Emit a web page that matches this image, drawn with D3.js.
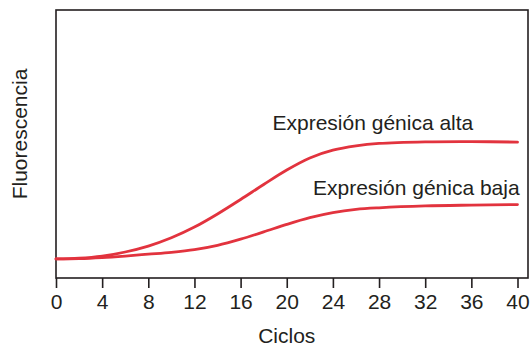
<!DOCTYPE html>
<html>
<head>
<meta charset="utf-8">
<script src="https://cdn.jsdelivr.net/npm/d3@7"></script>
<style>
  html, body { margin: 0; padding: 0; background: #fff; }
  svg { display: block; }
  text { font-family: "Liberation Sans", Arial, Helvetica, sans-serif; fill: #231f20; }
</style>
</head>
<body>
<svg id="chart" width="531" height="349"></svg>
<script>
const cycles = [0, 2, 4, 6, 8, 10, 12, 14, 16, 18, 20, 22, 24, 26, 28, 32, 36, 40];
const highExpression = [7.1, 7.4, 8.2, 9.7, 11.9, 15.0, 19.0, 23.9, 29.3, 34.9, 40.3, 44.8, 47.7, 49.3, 50.2, 50.8, 50.9, 50.7];
const lowExpression  = [7.1, 7.2, 7.6, 8.2, 8.9, 9.6, 10.6, 12.2, 14.5, 17.2, 20.0, 22.5, 24.4, 25.6, 26.2, 26.9, 27.2, 27.4];
const xTicks = [0, 4, 8, 12, 16, 20, 24, 28, 32, 36, 40];
const seriesLabels = ["Expresión génica alta", "Expresión génica baja"];
const xTitle = "Ciclos";
const yTitle = "Fluorescencia";

const svg = d3.select("#chart");
const frameLeft = 56, frameRight = 528, frameTop = 10, frameBottom = 278;
const x = d3.scaleLinear().domain([0, 40]).range([56, 517.5]);
const y = d3.scaleLinear().domain([0, 100]).range([frameBottom, frameTop]);

const fs = 21;
const red = "#e2333e";

// frame
svg.append("rect")
  .attr("x", frameLeft).attr("y", frameTop)
  .attr("width", frameRight - frameLeft).attr("height", frameBottom - frameTop)
  .attr("fill", "none").attr("stroke", "#231f20").attr("stroke-width", 1.6);

// x axis
const xAxis = d3.axisBottom(x).tickValues(xTicks).tickSize(10).tickPadding(6).tickSizeOuter(0);
const gx = svg.append("g").attr("transform", `translate(0,${frameBottom})`).call(xAxis);
gx.select(".domain").remove();
gx.selectAll(".tick line").attr("stroke", "#231f20").attr("stroke-width", 1.6);
gx.selectAll(".tick text")
  .attr("font-size", fs)
  .attr("font-family", "'Liberation Sans', Arial, sans-serif")
  .attr("fill", "#231f20");

// lines
const line = d3.line()
  .x((d, i) => x(cycles[i]))
  .y(d => y(d))
  .curve(d3.curveCatmullRom.alpha(0.5));

[highExpression, lowExpression].forEach(series => {
  svg.append("path")
    .datum(series)
    .attr("d", line)
    .attr("fill", "none")
    .attr("stroke", red)
    .attr("stroke-width", 2.8)
    .attr("stroke-linecap", "round");
});

// series labels
svg.append("text").attr("x", 272.5).attr("y", 129.5).attr("font-size", fs).text(seriesLabels[0]);
svg.append("text").attr("x", 313).attr("y", 195).attr("font-size", fs).text(seriesLabels[1]);

// axis titles
svg.append("text")
  .attr("x", (x(0) + x(40)) / 2).attr("y", 343)
  .attr("text-anchor", "middle").attr("font-size", fs)
  .text(xTitle);

svg.append("text")
  .attr("transform", "translate(26.5,134) rotate(-90)")
  .attr("text-anchor", "middle").attr("font-size", fs)
  .text(yTitle);
</script>
</body>
</html>
